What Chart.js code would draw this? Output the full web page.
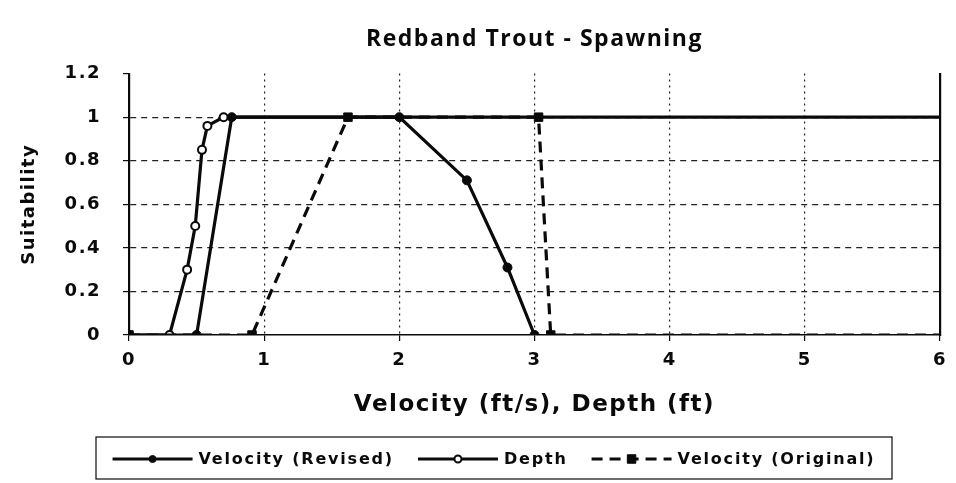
<!DOCTYPE html>
<html><head><meta charset="utf-8">
<script src="https://cdn.jsdelivr.net/npm/chart.js@4.4.1/dist/chart.umd.min.js"></script>
<style>html,body{margin:0;padding:0;background:#fff;} #wrap{width:956px;height:483px;position:relative;}</style>
</head><body><div id="wrap"><canvas id="c"></canvas></div>
<script>
const chartTitle = 'Redband Trout - Spawning';
const xAxisTitle = 'Velocity (ft/s), Depth (ft)';
const yAxisTitle = 'Suitability';
const xTickValues = [0, 1, 2, 3, 4, 5, 6];
const xTickLabels = ['0', '1', '2', '3', '4', '5', '6'];
const yTickValues = [0, 0.2, 0.4, 0.6, 0.8, 1, 1.2];
const yTickLabels = ['0', '0.2', '0.4', '0.6', '0.8', '1', '1.2'];
const seriesNames = ['Velocity (Revised)', 'Depth', 'Velocity (Original)'];
const velRevisedX = [0, 0.5, 0.76, 2.0, 2.5, 2.8, 3.0];
const velRevisedY = [0, 0, 1, 1, 0.71, 0.31, 0];
const depthX = [0, 0.3, 0.43, 0.49, 0.54, 0.58, 0.7, 6];
const depthY = [0, 0, 0.3, 0.5, 0.85, 0.96, 1, 1];
const velOrigX = [0, 0.91, 1.62, 3.03, 3.12, 6];
const velOrigY = [0, 0, 1, 1, 0, 0];

const toPts = (xs, ys) => xs.map((x, i) => ({x: x, y: ys[i]}));
const INK = '#0a0a0a';
const FONT = '"DejaVu Sans", "Liberation Sans", Arial, sans-serif';
const LS = '1.5px';
const edgeHide = r => c => (c.raw && c.raw.x >= xTickValues[xTickValues.length - 1]) ? 0 : r;

const spacingPlugin = {
  id: 'spacing',
  beforeLayout(chart) { chart.ctx.letterSpacing = LS; },
  beforeDraw(chart) { chart.ctx.letterSpacing = LS; }
};

function drawMarker(ctx, style, r, x, y, fill, stroke, bw) {
  ctx.save();
  ctx.setLineDash([]);
  ctx.fillStyle = fill; ctx.strokeStyle = stroke; ctx.lineWidth = bw;
  ctx.beginPath();
  if (style === 'rect') {
    const h = r * Math.SQRT1_2;
    ctx.rect(x - h, y - h, 2 * h, 2 * h);
  } else {
    ctx.arc(x, y, r, 0, Math.PI * 2);
  }
  ctx.fill(); ctx.stroke();
  ctx.restore();
}

const boxLegend = {
  id: 'boxLegend',
  afterDraw(chart) {
    const ctx = chart.ctx;
    const box = {l: 96, t: 437, r: 892, b: 479};
    ctx.save();
    ctx.letterSpacing = '1.8px';
    ctx.font = 'bold 16px ' + FONT;
    const sample = 80, gap = 6, spacing = 24;
    const items = chart.data.datasets.map(ds => ({ds: ds, w: ctx.measureText(ds.label).width}));
    const total = items.reduce((s, it) => s + sample + gap + it.w, 0) + spacing * (items.length - 1);
    let x = (box.l + box.r) / 2 - total / 2;
    const y = 459;
    ctx.strokeStyle = INK; ctx.lineWidth = 1.2; ctx.setLineDash([]);
    ctx.strokeRect(box.l, box.t, box.r - box.l, box.b - box.t);
    items.forEach(it => {
      const ds = it.ds;
      ctx.save();
      ctx.strokeStyle = ds.borderColor; ctx.lineWidth = ds.borderWidth;
      ctx.setLineDash(ds.borderDash || []);
      ctx.beginPath(); ctx.moveTo(x, y); ctx.lineTo(x + sample, y); ctx.stroke();
      ctx.restore();
      drawMarker(ctx, ds.pointStyle, ds.legendRadius, x + sample / 2, y, ds.pointBackgroundColor, ds.pointBorderColor, ds.pointBorderWidth);
      x += sample + gap;
      ctx.fillStyle = INK; ctx.textAlign = 'left'; ctx.textBaseline = 'middle';
      ctx.fillText(ds.label, x, y + 1);
      x += it.w + spacing;
    });
    ctx.restore();
  }
};

new Chart(document.getElementById('c'), {
  type: 'line',
  data: {
    datasets: [
      {label: seriesNames[0], data: toPts(velRevisedX, velRevisedY), borderColor: INK, borderWidth: 3.2,
       pointStyle: 'circle', pointRadius: edgeHide(4.5), legendRadius: 3.5, pointBackgroundColor: INK, pointBorderColor: INK, pointBorderWidth: 1},
      {label: seriesNames[1], data: toPts(depthX, depthY), borderColor: INK, borderWidth: 3.2,
       pointStyle: 'circle', pointRadius: edgeHide(4), legendRadius: 3.5, pointBackgroundColor: '#fff', pointBorderColor: INK, pointBorderWidth: 2},
      {label: seriesNames[2], data: toPts(velOrigX, velOrigY), borderColor: INK, borderWidth: 3.2, borderDash: [11, 7],
       pointStyle: 'rect', pointRadius: edgeHide(6), legendRadius: 6, pointBackgroundColor: INK, pointBorderColor: INK, pointBorderWidth: 1}
    ]
  },
  options: {
    responsive: true, maintainAspectRatio: false, animation: false,
    layout: {padding: {left: 0, right: 13, top: 0, bottom: 0}},
    plugins: {
      legend: {display: false},
      tooltip: {enabled: false},
      title: {display: true, text: chartTitle, fullSize: false, color: INK,
        font: {family: '"Open Sans", "DejaVu Sans", sans-serif', size: 23, weight: 'bold'},
        padding: {top: 26, bottom: 20}}
    },
    scales: {
      x: {
        type: 'linear', min: 0, max: 6,
        afterBuildTicks: s => { s.ticks = xTickValues.map(v => ({value: v})); },
        afterFit: s => { s.height = 148; },
        ticks: {color: INK, padding: 9, font: {family: FONT, size: 18, weight: 'bold'},
                callback: (v, i) => xTickLabels[i]},
        grid: {color: c => (c.tick && (c.tick.value === 0 || c.tick.value === 6)) ? 'rgba(0,0,0,0)' : '#222',
               lineWidth: 1.2, tickColor: INK, tickLength: 6},
        border: {display: true, color: INK, width: 1.5, dash: [2, 4]},
        title: {display: true, text: xAxisTitle, color: INK, font: {family: FONT, size: 23, weight: 'bold'},
                padding: {top: 0, bottom: 64}}
      },
      y: {
        type: 'linear', min: 0, max: 1.2,
        afterBuildTicks: s => { s.ticks = yTickValues.map(v => ({value: v})); },
        afterFit: s => { s.width = 129; },
        ticks: {color: INK, padding: 22, font: {family: FONT, size: 18, weight: 'bold'},
                callback: (v, i) => yTickLabels[i]},
        grid: {color: c => (c.tick && (c.tick.value === 0 || c.tick.value >= 1.2)) ? 'rgba(0,0,0,0)' : '#222',
               lineWidth: 1.2, tickColor: INK, tickLength: 6},
        border: {display: true, color: INK, width: 2.2, dash: [6, 5]},
        title: {display: true, text: yAxisTitle, color: INK, font: {family: FONT, size: 18, weight: 'bold'},
                padding: {top: 19, bottom: 0}}
      },
      y2: {
        type: 'linear', position: 'right', min: 0, max: 1.2,
        afterFit: s => { s.width = 0; },
        ticks: {display: false},
        grid: {drawOnChartArea: false, drawTicks: false},
        border: {display: true, color: INK, width: 2.2}
      }
    }
  },
  plugins: [spacingPlugin, boxLegend]
});
</script></body></html>
